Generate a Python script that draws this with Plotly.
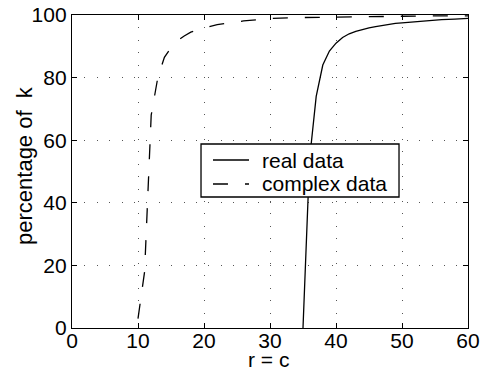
import plotly.graph_objects as go

# Data
real_r = [35, 36, 37, 38, 39, 40, 41, 42, 43, 44, 45, 46, 47, 48, 49, 50, 52, 54, 56, 58, 60]
real_pct = [0, 54, 74, 84, 88.5, 91, 92.8, 94, 94.8, 95.4, 95.9, 96.3, 96.7, 97, 97.3, 97.5,
            97.9, 98.2, 98.5, 98.7, 98.9]

complex_r = [10, 11, 12, 13, 14, 15, 16, 17, 18, 19, 20, 22, 24, 26, 28, 30, 35, 40, 45, 50, 55, 60]
complex_pct = [3, 18, 68, 80, 86.5, 89.5, 91.8, 93.3, 94.5, 95.3, 95.9, 96.9, 97.6, 98.1, 98.5,
               98.9, 99.2, 99.4, 99.5, 99.6, 99.7, 99.7]

series_names = ["real data", "complex data"]
x_ticks = [0, 10, 20, 30, 40, 50, 60]
y_ticks = [0, 20, 40, 60, 80, 100]
x_title = "r = c"
y_title = "percentage of  k"

FONT = "Liberation Sans, Arial, Helvetica, sans-serif"
FS = 21
DASH = "15px,17px"

fig = go.Figure()
fig.add_trace(go.Scatter(x=real_r, y=real_pct, mode="lines", name=series_names[0],
                         line=dict(color="black", width=1.3)))
fig.add_trace(go.Scatter(x=complex_r, y=complex_pct, mode="lines", name=series_names[1],
                         line=dict(color="black", width=1.3, dash=DASH)))

axis_common = dict(
    showline=True, linecolor="black", linewidth=1.3, mirror="ticks",
    ticks="inside", ticklen=5, tickcolor="black", tickwidth=1,
    showgrid=True, gridcolor="#555", gridwidth=1, griddash="1px,11.4px",
    zeroline=False, tickfont=dict(size=FS, color="black", family=FONT),
    ticklabeloverflow="allow", automargin=False,
)

# Legend box (MATLAB style) drawn in paper coordinates
shapes = [
    dict(type="rect", xref="paper", yref="paper", x0=0.3258, x1=0.8258, y0=0.4185, y1=0.5879,
         fillcolor="white", line=dict(color="black", width=1.3), layer="above"),
    dict(type="line", xref="paper", yref="paper", x0=0.356, x1=0.447, y0=0.5367, y1=0.5367,
         line=dict(color="black", width=1.3), layer="above"),
    dict(type="line", xref="paper", yref="paper", x0=0.356, x1=0.447, y0=0.4601, y1=0.4601,
         line=dict(color="black", width=1.3, dash=DASH), layer="above"),
]

annotations = [
    dict(text=series_names[0], xref="paper", yref="paper", x=0.4747, y=0.5367,
         xanchor="left", yanchor="middle", showarrow=False,
         font=dict(size=FS, family=FONT, color="black")),
    dict(text=series_names[1], xref="paper", yref="paper", x=0.4747, y=0.4601,
         xanchor="left", yanchor="middle", showarrow=False,
         font=dict(size=FS, family=FONT, color="black")),
    dict(text=y_title, xref="paper", yref="paper", x=-0.1187, y=0.5208,
         xanchor="center", yanchor="middle", textangle=-90, showarrow=False,
         font=dict(size=22, family=FONT, color="black")),
    dict(text=x_title, xref="paper", yref="paper", x=0.495, y=-0.101,
         xanchor="center", yanchor="middle", showarrow=False,
         font=dict(size=FS, family=FONT, color="black")),
]

fig.update_layout(
    width=482, height=371,
    margin=dict(l=72, r=14, t=15, b=43, autoexpand=False),
    paper_bgcolor="white", plot_bgcolor="white",
    font=dict(family=FONT, size=FS, color="black"),
    showlegend=False,
    xaxis=dict(range=[0, 60], tickvals=x_ticks, ticktext=[str(v) for v in x_ticks],
               ticklabelstandoff=-6, **axis_common),
    yaxis=dict(range=[0, 100], tickvals=y_ticks, ticktext=[str(v) for v in y_ticks],
               **axis_common),
    shapes=shapes,
    annotations=annotations,
)

fig.write_html(
    "out.html",
    config={"displayModeBar": False},
    post_script="document.body.style.margin='0px';document.body.style.overflow='hidden';",
)
